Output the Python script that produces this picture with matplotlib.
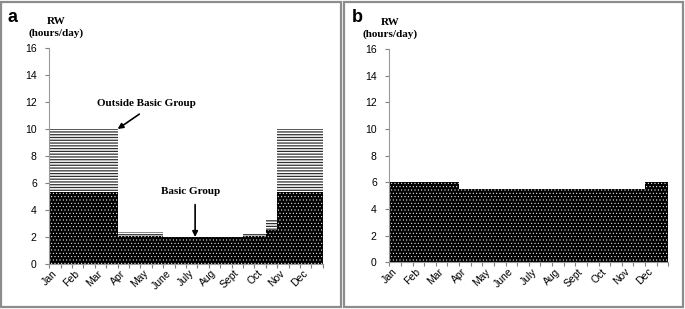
import matplotlib
matplotlib.use("Agg")
import matplotlib.pyplot as plt
import numpy as np
from matplotlib.patches import Rectangle

# ── Data (half-month resolution, 24 slots Jan..Dec) ──────────────────────
months = ["Jan", "Feb", "Mar", "Apr", "May", "June", "July", "Aug", "Sept", "Oct", "Nov", "Dec"]
edges = np.arange(0, 12.5, 0.5)

basic_a = [5.3] * 6 + [2.1] * 4 + [2.0] * 7 + [2.1] * 2 + [2.5] * 1 + [5.3] * 4
total_a = [10.0] * 6 + [2.35] * 4 + [2.0] * 7 + [2.3] * 2 + [3.3] * 1 + [10.0] * 4
basic_b = [6.0] * 6 + [5.5] * 16 + [6.0] * 2

yticks = list(range(0, 17, 2))

SANS = "Liberation Sans"
SERIF = "Liberation Serif"

fig = plt.figure(figsize=(6.85, 3.09), dpi=100)

# panel frames
W, H = 685, 309
for x0, x1 in [(1, 341), (344, 683)]:
    fig.patches.append(Rectangle((x0 / W, 2 / H), (x1 - x0) / W, (307 - 2) / H,
                                 transform=fig.transFigure, fill=False,
                                 edgecolor="#8c8c8c", linewidth=1.6))

ax_a = fig.add_axes([49.3 / W, 45 / H, 273.4 / W, 216 / H])
ax_b = fig.add_axes([389.3 / W, 46.7 / H, 279 / W, 213.3 / H])


def stepvals(v):
    return list(v) + [v[-1]]


def dotted(ax, lower, upper):
    with plt.rc_context({"hatch.linewidth": 0.35}):
        ax.fill_between(edges, lower, upper, step="post",
                        facecolor="black", edgecolor="white", linewidth=0, hatch=".....")


def style(ax, label_x):
    ax.set_xlim(0, 12)
    ax.set_ylim(0, 16)
    for s in ["top", "right"]:
        ax.spines[s].set_visible(False)
    for s in ["left", "bottom"]:
        ax.spines[s].set_color("#9a9a9a")
        ax.spines[s].set_linewidth(0.8)
    ax.set_yticks(yticks)
    ax.set_yticklabels([str(t) for t in yticks], fontfamily=SANS, fontsize=7.5)
    ax.set_xticks(edges)
    ax.set_xticklabels([])
    ax.set_xticks(np.arange(12) + 0.42, minor=True)
    ax.set_xticklabels(months, minor=True, rotation=45, ha="right",
                       fontfamily=SANS, fontsize=7.5)
    ax.tick_params(axis="x", which="minor", length=0, pad=3)
    ax.tick_params(axis="both", which="major", length=3, color="#808080", direction="out")
    ax.tick_params(axis="y", pad=6)
    ax.text(label_x, 16.75, "RW\n(hours/day)", ha="center", va="bottom", fontfamily=SERIF,
            fontweight="bold", fontsize=8, linespacing=1.35)


# ── Panel a ─────────────────────────────────────────────────────────────
with plt.rc_context({"hatch.linewidth": 0.9}):
    ax_a.fill_between(edges, stepvals(basic_a), stepvals(total_a), step="post",
                      facecolor="white", edgecolor="#303030", linewidth=0, hatch="------")
dotted(ax_a, 0, stepvals(basic_a))
style(ax_a, 0.3)
ax_a.text(4.27, 11.9, "Outside Basic Group", ha="center", va="center",
          fontfamily=SERIF, fontweight="bold", fontsize=8)
ax_a.annotate("", xy=(3.0, 10.0), xytext=(3.95, 11.1),
              arrowprops=dict(arrowstyle="-|>", color="black", lw=1.2,
                              shrinkA=0, shrinkB=0, mutation_scale=8))
ax_a.text(6.22, 5.4, "Basic Group", ha="center", va="center",
          fontfamily=SERIF, fontweight="bold", fontsize=8)
ax_a.annotate("", xy=(6.4, 2.0), xytext=(6.4, 4.4),
              arrowprops=dict(arrowstyle="-|>", color="black", lw=1.2,
                              shrinkA=0, shrinkB=0, mutation_scale=8))

# ── Panel b ─────────────────────────────────────────────────────────────
dotted(ax_b, 0, stepvals(basic_b))
style(ax_b, 0.05)

fig.text(8 / W, 1 - 22 / H, "a", fontfamily=SANS, fontweight="bold", fontsize=13)
fig.text(352 / W, 1 - 22 / H, "b", fontfamily=SANS, fontweight="bold", fontsize=13)

fig.savefig("out.png", dpi=100)
